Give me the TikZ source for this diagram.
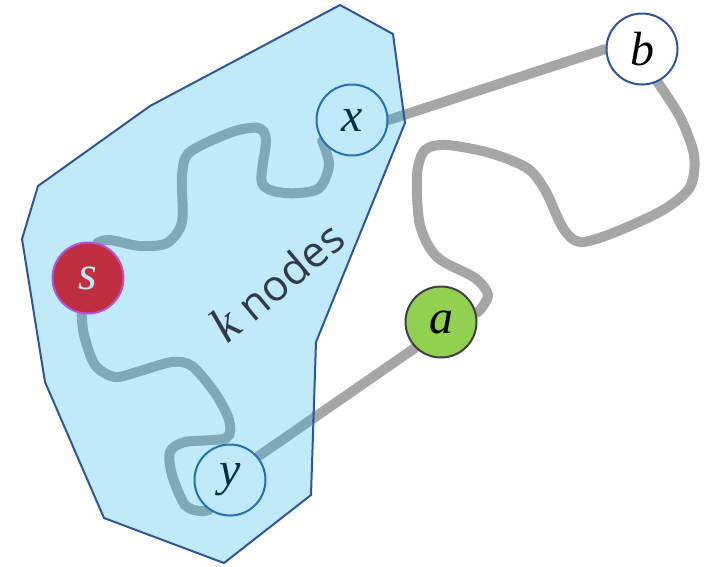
\documentclass[tikz,border=0pt]{standalone}
\usepackage{fontspec}
\newfontfamily\tagfont{Open Sans}
\newfontfamily\letterfont{Liberation Serif}
\usetikzlibrary{positioning}
\pgfdeclarelayer{bg}
\pgfsetlayers{bg,main}
\definecolor{hullblue}{RGB}{22,177,233}
\definecolor{hulledge}{RGB}{47,85,151}
\definecolor{wiregray}{RGB}{166,166,166}
\definecolor{agreen}{RGB}{146,208,80}
\definecolor{sred}{RGB}{255,0,0}
\definecolor{spink}{RGB}{240,48,208}
\definecolor{tagtext}{RGB}{50,58,72}

\begin{document}
\begin{tikzpicture}[x=1pt,y=-1pt,
	vert/.style={circle,draw=hulledge,line width=2pt,fill=white,minimum size=71pt,inner sep=0pt,font=\letterfont\itshape\fontsize{48}{52}\selectfont},
	wire/.style={draw=wiregray,line width=10pt,line cap=round},
	hull/.style={draw=hulledge,line width=2pt,fill=hullblue,fill opacity=0.27}]
	\useasboundingbox (0,0) rectangle (711,566);
	\node[vert] (x) at (352,120) {x};
	\node[vert] (b) at (642,49) {b};
	\node[vert,fill=agreen,draw=black!75] (a) at (441,322) {a};
	\node[vert,fill=sred,draw=spink,text=white] (s) at (88,278) {s};
	\node[vert] (y) at (230,480) {y};
	\begin{pgfonlayer}{bg}
		\path[wire] (x.east) -- (b.west)
			(a.225) -- (y.40);
		\draw[wire] plot[smooth] coordinates {(x.215) (329,165) (318,189) (285,193) (262,183) (266,140) (258,128) (232,132) (190,152) (182,175) (182,222) (167,243) (140,246) (110,240) (s.75)};
		\draw[wire] plot[smooth] coordinates {(s.260) (84,335) (95,365) (115,377) (140,371) (172,362) (192,366) (215,393) (229,420) (226,438) (185,442) (170,452) (172,475) (185,505) (200,511) (y.235)};
		\draw[wire] plot[smooth] coordinates {(b.295) (680,117) (694,155) (690,187) (663,210) (613,233) (580,242) (563,228) (545,190) (527,168) (490,153) (447,145) (425,150) (417,175) (420,225) (437,257) (475,278) (488,295) (480,310) (a.15)};
	\end{pgfonlayer}
	% the k nodes around s
	\draw[hull] (340,5) -- (393,34) -- (405,123) -- (316,342) -- (311,495) -- (224,563) -- (104,518) -- (45,382) -- (22,239) -- (38,186) -- (150,106) -- cycle;
	\node[rotate=40,text=tagtext,inner sep=0pt,font=\tagfont\fontsize{43}{46}\selectfont] (tag) at (277,281) {{\letterfont\itshape\fontsize{50}{52}\selectfont k} nodes};
\end{tikzpicture}
\end{document}
